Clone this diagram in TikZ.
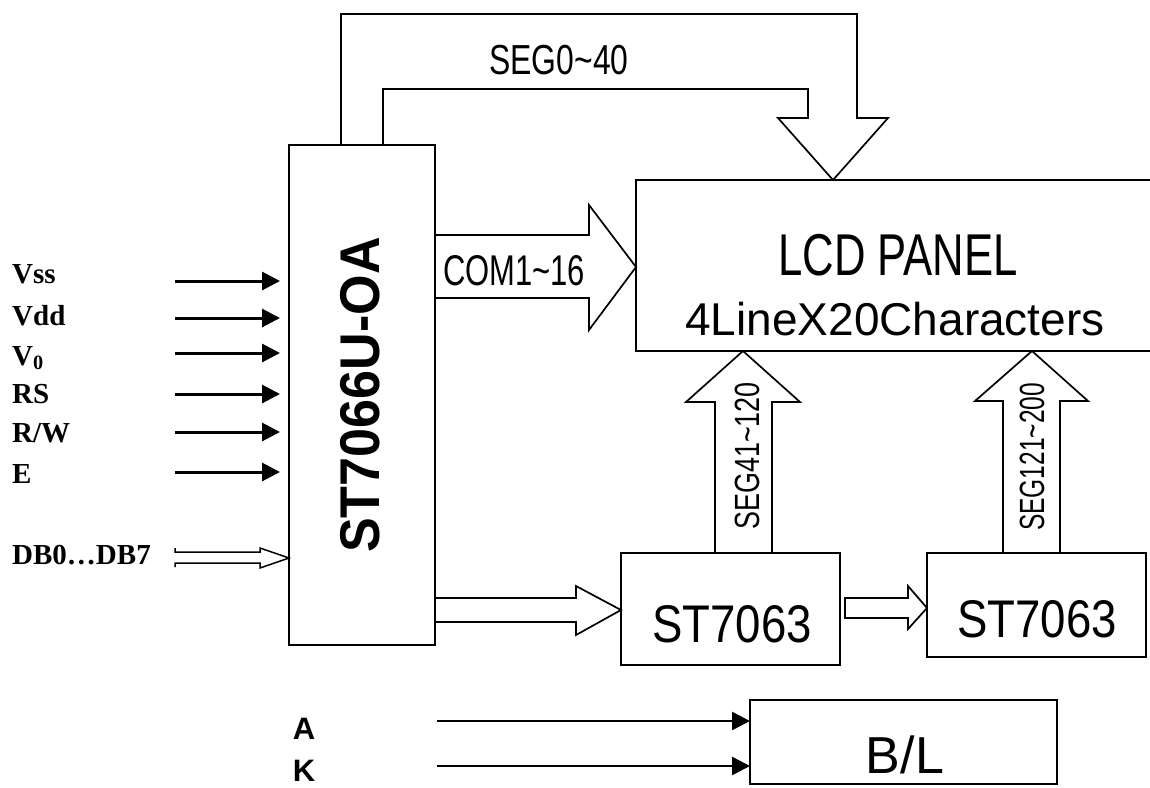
\documentclass[tikz,border=0pt]{standalone}
\usepackage{fontspec}
\setmainfont{Liberation Serif}
\newfontfamily\arial{Liberation Sans}
\usetikzlibrary{arrows.meta}
\begin{document}
\begin{tikzpicture}[x=1pt,y=-1pt,
  box/.style={draw, line width=1.9pt, inner sep=0pt, outer sep=0pt, anchor=north west},
  blk/.style={draw, line width=1.7pt, line join=miter},
  inarr/.style={line width=3pt, -{Triangle[length=18pt,width=18pt]}},
  lbl/.style={anchor=base west, inner sep=0pt, font=\fontsize{29}{32}\selectfont\bfseries},
  sans/.style={inner sep=0pt, font=\arial\fontsize{#1}{#1}\selectfont},
  sanb/.style={inner sep=0pt, anchor=base, font=\arial\fontsize{#1}{#1}\selectfont}]
\useasboundingbox (0,0) rectangle (1150,787);

% boxes
\node[box, minimum width=146pt, minimum height=500pt] (ic) at (289,145) {};
\node[box, minimum width=530pt, minimum height=171pt] (lcd) at (636,180) {};
\node[box, minimum width=219pt, minimum height=112pt] (drv1) at (621,553) {};
\node[box, minimum width=219pt, minimum height=104pt] (drv2) at (927,553) {};
\node[box, minimum width=307pt, minimum height=84pt] (bl) at (750,700) {};

% box texts
\node[rotate=90, inner sep=0pt, font=\arial\bfseries\fontsize{56}{60}\selectfont] (icl) at (360,395) {\scalebox{0.93}[1]{ST7066U-OA}};
\node[sanb=59] (lcdl1) at (898,275) {\scalebox{0.74}[1]{LCD PANEL}};
\node[sanb=46] (lcdl2) at (895,335) {4LineX20Characters};
\node[sanb=53] (drv1l) at (732,642) {\scalebox{0.86}[1]{ST7063}};
\node[sanb=53] (drv2l) at (1037,637) {\scalebox{0.86}[1]{ST7063}};
\node[sanb=52] (bll) at (905,773) {B/L};

% SEG0~40 block arrow
\draw[blk] (341,0 |- ic.north) -- (341,14) -- (857,14) -- (857,118) -- (888,118)
  -- (833,0 |- lcd.north) -- (778,118) -- (808,118) -- (808,89) -- (383,89) -- (383,0 |- ic.north);
\node[sans=42] (seg0) at (559,60) {\scalebox{0.76}[1]{SEG0\textasciitilde40}};

% COM1~16 block arrow
\draw[blk] (ic.east |- 0,235) -- (589,235) -- (589,205) -- (lcd.west |- 0,267) -- (589,330) -- (589,298) -- (ic.east |- 0,298);
\node[sans=43] (com) at (514,271) {\scalebox{0.72}[1]{COM1\textasciitilde16}};

% IC -> driver 1
\draw[blk] (ic.east |- 0,598) -- (576,598) -- (576,586) -- (drv1.west |- 0,610) -- (576,635) -- (576,622) -- (ic.east |- 0,622);
% driver 1 -> driver 2
\draw[blk] (845,598) -- (908,598) -- (908,586) -- (drv2.west |- 0,608) -- (908,629) -- (908,618) -- (845,618) -- cycle;

% SEG41~120
\draw[blk] (715,0 |- drv1.north) -- (715,402) -- (686,402) -- (743,0 |- lcd.south) -- (800,402) -- (772,402) -- (772,0 |- drv1.north);
\node[sans=35, rotate=90] (seg41) at (747,456) {\scalebox{0.77}[1]{SEG41\textasciitilde120}};
% SEG121~200
\draw[blk] (1003,0 |- drv2.north) -- (1003,401) -- (975,401) -- (1032,0 |- lcd.south) -- (1088,401) -- (1060,401) -- (1060,0 |- drv2.north);
\node[sans=35, rotate=90] (seg121) at (1032,457) {\scalebox{0.70}[1]{SEG121\textasciitilde200}};

% input labels
\node[lbl] (vss) at (12,283) {Vss};
\node[lbl] (vdd) at (12,325) {Vdd};
\node[lbl] (v0) at (12,365) {V\textsubscript{0}};
\node[lbl] (rs) at (12,403) {RS};
\node[lbl] (rw) at (12,442) {R/W};
\node[lbl] (e) at (12,483) {E};
\node[lbl] (db) at (12,564) {DB0…DB7};

% input arrows
\coordinate (i1) at (175,281);
\coordinate (i2) at (175,318);
\coordinate (i3) at (175,353);
\coordinate (i4) at (175,394);
\coordinate (i5) at (175,432);
\coordinate (i6) at (175,472);
\foreach \c in {i1,i2,i3,i4,i5,i6}
  \draw[inarr, shorten >=9pt] (\c) -- (\c -| ic.west);

% data bus arrow
\draw[line width=1.5pt, line join=miter] (175,548) -- (175,552) -- (260,552) -- (260,548) -- (ic.west |- 0,558)
  -- (260,568) -- (260,563) -- (175,563) -- (175,567);

% backlight
\node[sanb=31, font=\arial\bfseries\fontsize{31}{31}\selectfont] (la) at (304,739) {A};
\node[sanb=31, font=\arial\bfseries\fontsize{31}{31}\selectfont] (lk) at (304,781) {K};
\coordinate (ca) at (437,721);
\coordinate (ck) at (437,766);
\draw[inarr, line width=2.6pt] (ca) -- (ca -| bl.west);
\draw[inarr, line width=2.6pt] (ck) -- (ck -| bl.west);
\end{tikzpicture}
\end{document}
